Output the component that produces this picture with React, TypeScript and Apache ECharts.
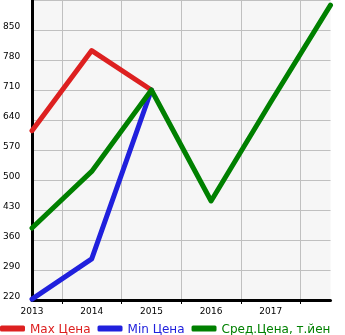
import React, { useEffect, useRef } from "react";
import * as echarts from "echarts";

const years = [2013, 2014, 2015, 2016, 2017, 2018];
const yearLabels = [2013, 2014, 2015, 2016, 2017];
const xTickMarks = [2013.5, 2014.5, 2015.5, 2016.5, 2017.5];
const yTicks = [220, 290, 360, 430, 500, 570, 640, 710, 780, 850, 920];

const maxPrice = [615, 802, 710, null, null, null];
const minPrice = [222, 316, 710, null, null, null];
const avgPrice = [388, 520, 710, 451, 682, 908];

const seriesNames = ["Max Цена", "Min Цена", "Сред.Цена, т.йен"];
const seriesColors = ["#dd2020", "#2020dd", "#008000"];

const pairs = (vals: (number | null)[]) =>
  years.map((y, i) => [y, vals[i]]).filter((p) => p[1] !== null);

export default function App() {
  const ref = useRef<HTMLDivElement>(null);
  useEffect(() => {
    if (!ref.current) return;
    const chart = echarts.init(ref.current, null, { renderer: "svg" });
    const step = yTicks[1] - yTicks[0];
    const span = yTicks[yTicks.length - 1] - yTicks[0];
    const dataSets = [maxPrice, minPrice, avgPrice];
    const legendText = [{ width: 61 }, { width: 61 }, {}];
    chart.setOption({
      animation: false,
      textStyle: { fontFamily: "DejaVu Sans" },
      grid: {
        left: 30.5,
        right: 14.5,
        top: 0,
        bottom: 35,
        show: true,
        backgroundColor: "#f6f6f6",
        borderWidth: 0,
      },
      legend: {
        left: 0,
        top: 322.5,
        padding: 0,
        itemWidth: 25,
        itemHeight: 6,
        itemGap: 7,
        icon: "roundRect",
        data: seriesNames.map((n, i) => ({
          name: n,
          textStyle: {
            color: seriesColors[i],
            fontFamily: "DejaVu Sans",
            fontSize: 12,
            ...legendText[i],
          },
        })),
      },
      xAxis: {
        type: "value",
        min: years[0],
        max: years[years.length - 1],
        interval: 0.5,
        splitLine: { show: true, lineStyle: { color: "#c0c0c0", width: 1 } },
        axisLine: { show: true, lineStyle: { color: "#000", width: 3 } },
        axisTick: {
          show: true,
          customValues: xTickMarks,
          length: 4,
          lineStyle: { color: "#000", width: 1 },
        },
        axisLabel: {
          customValues: yearLabels,
          formatter: (v: number) => String(v),
          color: "#000",
          fontSize: 9,
          fontFamily: "DejaVu Sans",
          margin: 6,
        },
      },
      yAxis: [
        {
          type: "value",
          min: yTicks[0],
          max: yTicks[yTicks.length - 1],
          show: false,
          splitLine: { show: false },
        },
        {
          type: "value",
          min: 0,
          max: span,
          interval: step,
          position: "left",
          splitLine: { show: true, lineStyle: { color: "#c0c0c0", width: 1 } },
          axisLine: { show: true, lineStyle: { color: "#000", width: 3 } },
          axisTick: { show: false },
          axisLabel: {
            showMaxLabel: false,
            formatter: (v: number) => String(yTicks[Math.round(v / step)]),
            color: "#000",
            fontSize: 9,
            fontFamily: "DejaVu Sans",
            align: "left",
            verticalAlign: "bottom",
            margin: 29,
          },
        },
      ],
      series: dataSets.map((d, i) => ({
        name: seriesNames[i],
        type: "line",
        yAxisIndex: 0,
        data: pairs(d),
        symbol: "none",
        color: seriesColors[i],
        lineStyle: { width: 5, color: seriesColors[i], cap: "round", join: "round" },
        z: 2 + i,
      })),
    });
    return () => chart.dispose();
  }, []);
  return (
    <div
      ref={ref}
      style={{ position: "fixed", left: 0, top: 0, width: 345, height: 335 }}
    />
  );
}
